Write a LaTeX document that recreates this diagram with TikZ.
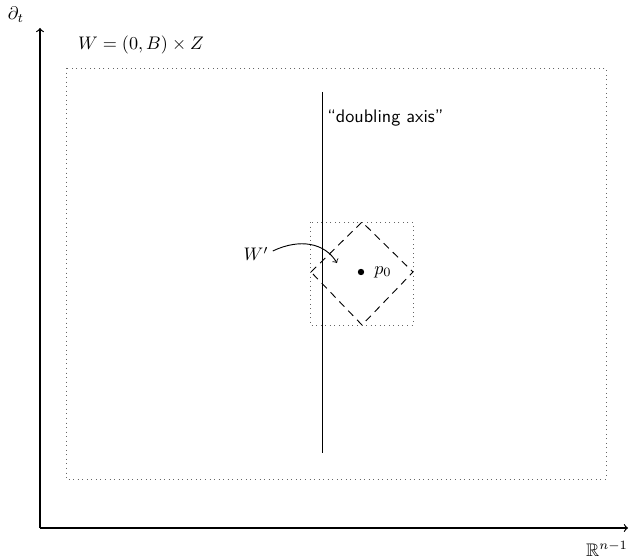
\documentclass[tikz,border=0pt]{standalone}
\usepackage{amsmath,amssymb}
\begin{document}
\begin{tikzpicture}[x=0.55pt,y=-0.55pt,
  axis/.style={line width=0.65pt,->},
  dotbox/.style={dotted,line width=0.5pt,gray!80!black},
  lbl/.style={inner sep=0pt}]
\useasboundingbox (0,0) rectangle (630,560);
% axes
\coordinate (O) at (40,528);
\coordinate (ytop) at (40,28);
\coordinate (xend) at (628,528);
\draw[axis] (O) -- (ytop);
\draw[axis] (O) -- (xend);
\node[lbl] (dt) at (16,15) {$\partial_t$};
\node[lbl] (rn) at (607,549) {$\mathbb{R}^{n-1}$};
% outer box
\draw[dotbox] (66,68) rectangle (606,479);
\node[lbl] (W) at (141,45) {$W=(0,B)\times Z$};
% doubling axis
\coordinate (dtop) at (322,92);
\coordinate (dbot) at (322,453);
\draw[line width=0.5pt] (dtop) -- (dbot);
\node[lbl,anchor=west,font=\sffamily] (dax) at (327,118) {``doubling axis''};
% small box
\draw[dotbox] (310,222) rectangle (413,325);
% diamond
\coordinate (dl) at (311,272);
\coordinate (dt2) at (362,222);
\coordinate (dr) at (413,272);
\coordinate (db) at (362,325);
\draw[dashed,line width=0.5pt,dash pattern=on 4pt off 3pt] (dl) -- (dt2) -- (dr) -- (db) -- cycle;
% point
\fill (361,272) circle (3.2);
\node[lbl] (p0) at (383,272) {$p_0$};
% W'
\node[lbl] (Wp) at (256,254) {$W'$};
\coordinate (wt) at (337,263);
\draw[->,line width=0.5pt] (Wp.east) ++(4,-3) .. controls (300,238) and (325,243) .. (wt);
\end{tikzpicture}
\end{document}
